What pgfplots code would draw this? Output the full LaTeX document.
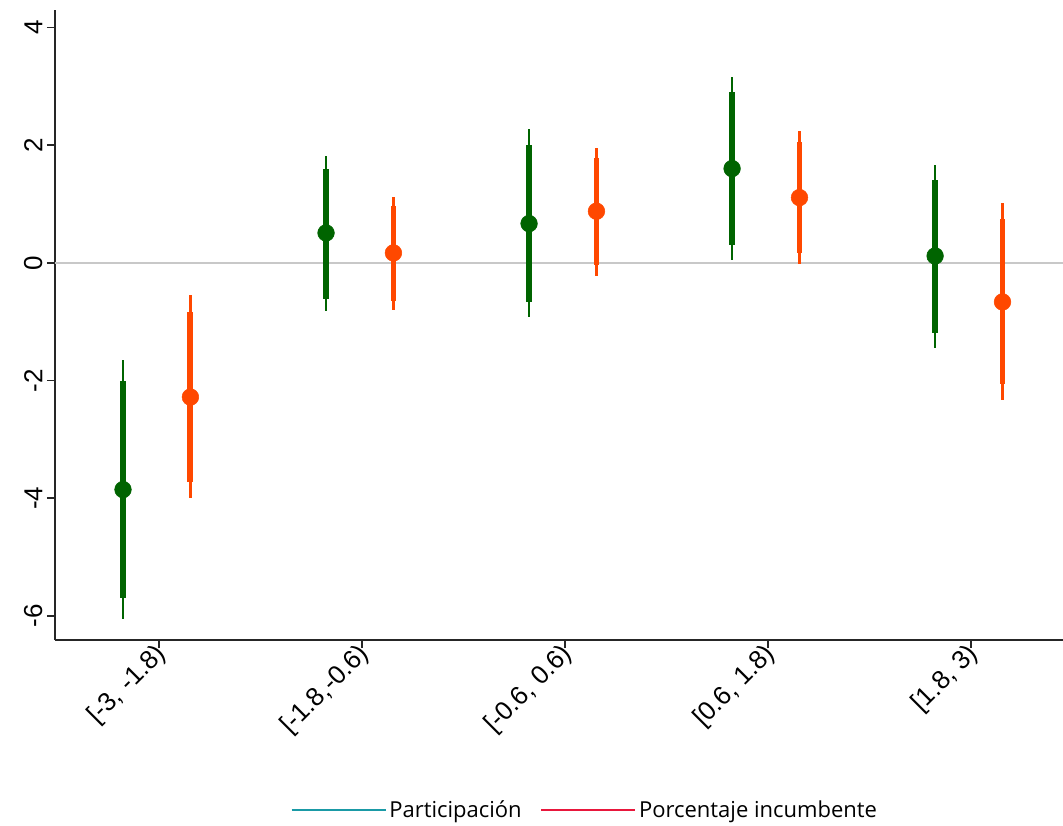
\documentclass[border=0pt]{standalone}
\usepackage{pgfplots}
\pgfplotsset{compat=1.18}
\usepackage{pgfplotstable}
\usepackage{fontspec}
\setmainfont{Liberation Sans}
\newfontfamily\legfont{Open Sans}
\definecolor{cgreen}{RGB}{0,100,0}
\definecolor{corange}{RGB}{255,72,0}
\definecolor{cteal}{RGB}{26,154,166}
\definecolor{cred}{RGB}{232,23,60}
\definecolor{czero}{RGB}{200,200,200}

\pgfplotstableread{
x y lo90 hi90 lo95 hi95
0.823 -3.853 -5.690 -2.010 -6.060 -1.652
1.823 0.510 -0.607 1.604 -0.822 1.825
2.823 0.669 -0.663 2.012 -0.924 2.279
3.823 1.604 0.300 2.908 0.051 3.163
4.823 0.119 -1.185 1.412 -1.446 1.672
}\greendata

\pgfplotstableread{
x y lo90 hi90 lo95 hi95
1.155 -2.280 -3.730 -0.826 -4.000 -0.548
2.155 0.170 -0.640 0.964 -0.805 1.128
3.155 0.879 -0.040 1.780 -0.215 1.956
4.155 1.111 0.170 2.058 -0.010 2.239
5.155 -0.663 -2.063 0.743 -2.330 1.015
}\orangedata

\begin{document}
\begin{tikzpicture}
\useasboundingbox (0,0) rectangle (797.25pt,618.75pt);
\begin{axis}[
  at={(41.25pt,138.75pt)}, anchor=south west,
  scale only axis, width=756pt, height=472.5pt,
  xmin=0.488, xmax=5.453, ymin=-6.41, ymax=4.30,
  axis x line*=bottom, axis y line*=left,
  axis line style={line width=1.2pt, black!85},
  tick style={line width=1.2pt, black!85},
  tick align=outside, major tick length=6pt,
  xtick={1,2,3,4,5},
  xticklabels={{[-3, -1.8)},{[-1.8,-0.6)},{[-0.6, 0.6)},{[0.6, 1.8)},{[1.8, 3)}},
  ytick={-6,-4,-2,0,2,4},
  /pgf/number format/assume math mode=true,
  tick label style={font=\fontsize{19.5pt}{22pt}\selectfont},
  x tick label style={rotate=45, anchor=east, xshift=4pt, yshift=-3pt},
  y tick label style={rotate=90, anchor=south},
  clip=false,
  legend style={at={(0.526,-0.27)}, anchor=center, draw=none, legend columns=2,
    font=\legfont\fontsize{16.5pt}{20pt}\selectfont,
    /tikz/every even column/.append style={column sep=12pt}},
  legend image code/.code={\draw[#1] (0pt,0pt) -- (70.5pt,0pt);},
]
\addplot[czero, line width=1.5pt, forget plot] coordinates {(0.488,0) (5.453,0)};

% green thin (95%)
\addplot[only marks, mark=none, forget plot,
  error bars/.cd, y dir=both, y explicit, error mark=none,
  error bar style={line width=2pt, draw=cgreen, solid}]
  table[x=x, y=y, y error plus expr=\thisrow{hi95}-\thisrow{y}, y error minus expr=\thisrow{y}-\thisrow{lo95}] {\greendata};
% green thick (90%)
\addplot[only marks, mark=none, forget plot,
  error bars/.cd, y dir=both, y explicit, error mark=none,
  error bar style={line width=4.4pt, draw=cgreen, solid}]
  table[x=x, y=y, y error plus expr=\thisrow{hi90}-\thisrow{y}, y error minus expr=\thisrow{y}-\thisrow{lo90}] {\greendata};
\addplot[only marks, mark=*, mark size=6.25pt, cgreen, forget plot] table[x=x, y=y] {\greendata};

% orange thin (95%)
\addplot[only marks, mark=none, forget plot,
  error bars/.cd, y dir=both, y explicit, error mark=none,
  error bar style={line width=2pt, draw=corange, solid}]
  table[x=x, y=y, y error plus expr=\thisrow{hi95}-\thisrow{y}, y error minus expr=\thisrow{y}-\thisrow{lo95}] {\orangedata};
% orange thick (90%)
\addplot[only marks, mark=none, forget plot,
  error bars/.cd, y dir=both, y explicit, error mark=none,
  error bar style={line width=4.4pt, draw=corange, solid}]
  table[x=x, y=y, y error plus expr=\thisrow{hi90}-\thisrow{y}, y error minus expr=\thisrow{y}-\thisrow{lo90}] {\orangedata};
\addplot[only marks, mark=*, mark size=6.25pt, corange, forget plot] table[x=x, y=y] {\orangedata};

\addlegendimage{cteal, line width=1.5pt}
\addlegendentry{Participación}
\addlegendimage{cred, line width=1.5pt}
\addlegendentry{Porcentaje incumbente}
\end{axis}
\end{tikzpicture}
\end{document}
